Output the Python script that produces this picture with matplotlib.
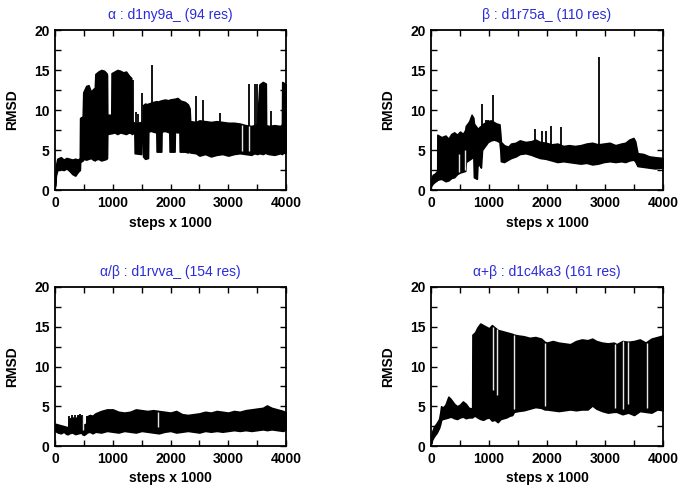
import numpy as np
import matplotlib
matplotlib.use("Agg")
import matplotlib.pyplot as plt
from matplotlib.ticker import MultipleLocator

plt.rcParams['font.family'] = ['Liberation Sans', 'DejaVu Sans']

# ---- panel 1 : alpha  d1ny9a_ ----
a_x  = [0, 15, 40, 100, 150, 200, 250, 300, 350, 400, 430, 435, 480, 490, 540, 580, 620, 660, 690,
        700, 750, 800, 850, 890, 900, 905, 975, 980, 1030, 1080, 1130, 1180, 1230, 1280, 1320, 1330,
        1375, 1380, 1490, 1495, 1520, 1525, 1560, 1610, 1615, 1660, 1700, 1755, 1760, 1840, 1845,
        1900, 1980, 1985, 2070, 2075, 2120, 2155, 2160, 2250, 2300, 2330, 2340, 2440, 2500, 2600,
        2700, 2800, 2900, 3000, 3100, 3200, 3300, 3400, 3450, 3500, 3540, 3600, 3650, 3655, 3700,
        3800, 3900, 3930, 3935, 4000]
a_lo = [0.5, 1.8, 2.5, 2.6, 2.5, 2.7, 2.4, 2.0, 1.8, 2.3, 2.5, 3.5, 3.7, 3.9, 3.8, 3.9, 4.0, 3.8, 3.7,
        3.8, 3.9, 3.7, 3.8, 3.9, 4.0, 7.0, 7.1, 7.1, 7.2, 7.0, 7.2, 7.1, 7.0, 7.2, 7.1, 7.0,
        7.2, 4.6, 4.5, 7.0, 7.1, 4.2, 3.9, 4.0, 7.3, 7.4, 7.3, 7.2, 4.8, 4.8, 7.3,
        7.4, 7.2, 4.8, 4.8, 7.3, 7.2, 7.3, 4.8, 4.8, 4.7, 4.8, 4.7, 4.6, 4.3, 4.5,
        4.2, 4.4, 4.5, 4.3, 4.5, 4.6, 4.5, 4.4, 4.6, 4.5, 4.6, 4.5, 4.7, 4.6, 4.5,
        4.4, 4.6, 4.5, 4.6, 4.7]
a_hi = [0.9, 3.0, 3.9, 4.1, 3.8, 4.0, 3.9, 3.8, 3.9, 3.8, 4.0, 9.0, 9.2, 12.2, 13.0, 13.1, 12.3, 12.6, 12.8,
        14.5, 14.8, 15.0, 14.9, 14.6, 14.4, 9.4, 9.4, 14.6, 14.8, 15.0, 14.9, 14.7, 14.8, 14.3, 14.0, 8.6,
        8.4, 8.3, 8.5, 8.2, 8.2, 10.6, 10.8, 10.7, 10.8, 10.9, 11.0, 11.1, 11.0, 11.2, 11.2,
        11.3, 11.2, 11.3, 11.4, 11.4, 11.5, 11.3, 11.2, 11.0, 10.7, 10.2, 8.6, 8.5, 8.7, 8.6,
        8.5, 8.6, 8.5, 8.4, 8.4, 8.3, 8.1, 8.0, 8.1, 8.2, 13.2, 13.5, 13.3, 8.1, 8.0,
        8.1, 8.0, 8.2, 13.5, 13.2]
a_spike_x = [1352, 1400, 1440, 1508, 1680, 2446, 2561, 2849, 3367, 3455, 3500, 3741]
a_spike_y = [13.7, 9.8, 9.5, 12.1, 15.6, 11.8, 11.2, 9.6, 13.3, 13.2, 13.3, 9.9]
a_gap_x  = [3240, 3355]
a_gap_lo = [4.9, 4.9]
a_gap_hi = [8.1, 8.0]

# ---- panel 2 : beta  d1r75a_ ----
b_x  = [0, 30, 60, 100, 108, 110, 180, 250, 300, 350, 400, 450, 500, 550, 590, 600, 660, 700,
        730, 740, 790, 800, 840, 860, 880, 930, 980, 1030, 1080, 1130, 1180, 1195, 1205, 1260,
        1330, 1380, 1460, 1530, 1630, 1730, 1800, 1880, 1980, 2080, 2180, 2280, 2380, 2480, 2580,
        2680, 2780, 2880, 2980, 3080, 3180, 3280, 3350, 3420, 3490, 3520, 3560, 3660, 3760, 3860, 4000]
b_lo = [0.5, 0.8, 1.0, 1.2, 1.4, 1.3, 1.4, 1.1, 1.2, 1.5, 1.6, 2.0, 2.2, 2.3, 2.4, 3.5, 3.8, 4.0,
        4.4, 1.6, 1.4, 3.0, 3.2, 2.8, 5.0, 5.5, 6.0, 6.2, 6.3, 6.2, 6.0, 5.0, 3.6, 3.5,
        3.8, 4.0, 4.2, 4.5, 4.6, 4.4, 4.2, 4.0, 3.9, 3.7, 3.5, 3.6, 3.5, 3.4, 3.3,
        3.4, 3.2, 3.3, 3.5, 3.6, 3.5, 3.6, 3.5, 3.7, 3.8, 3.6, 3.0, 2.9, 2.8, 2.7, 2.8]
b_hi = [1.2, 1.9, 2.0, 2.3, 2.5, 6.9, 6.6, 6.8, 6.4, 7.0, 7.2, 6.9, 7.3, 7.0, 7.5, 8.0, 8.6, 9.4,
        9.0, 8.3, 7.8, 7.6, 7.9, 8.0, 8.2, 8.4, 8.6, 8.7, 8.5, 8.3, 8.2, 7.0, 6.0, 5.6,
        5.4, 5.8, 5.9, 6.2, 6.0, 6.1, 6.3, 6.0, 5.9, 5.7, 5.8, 5.5, 5.6, 5.5, 5.6,
        5.8, 5.9, 5.7, 5.8, 5.9, 5.6, 5.8, 5.9, 6.3, 6.5, 6.1, 4.6, 4.5, 4.2, 4.1, 4.0]
b_spike_x = [880, 940, 985, 1062, 1800, 1917, 1975, 2061, 2233, 2905]
b_spike_y = [10.7, 8.7, 8.7, 11.9, 7.6, 7.4, 7.4, 8.0, 7.9, 16.6]
b_gap_x  = [490, 580]
b_gap_lo = [2.2, 2.5]
b_gap_hi = [4.5, 5.0]

# ---- panel 3 : alpha/beta  d1rvva_ ----
c_x  = [0, 50, 100, 150, 200, 230, 240, 300, 350, 400, 460, 470, 500, 540, 550, 600, 650, 700,
        800, 900, 1000, 1100, 1200, 1300, 1400, 1500, 1600, 1700, 1800, 1900, 2000, 2100, 2200,
        2300, 2400, 2500, 2600, 2700, 2800, 2900, 3000, 3100, 3200, 3300, 3400, 3500, 3600, 3670,
        3750, 3850, 3950, 4000]
c_lo = [1.9, 1.7, 1.6, 1.8, 1.5, 1.5, 1.6, 1.7, 1.5, 1.6, 1.7, 1.5, 1.4, 1.6, 1.7, 1.8, 1.6, 1.8,
        1.7, 1.9, 1.8, 1.7, 1.9, 1.8, 1.7, 1.9, 1.8, 1.7, 1.6, 1.8, 1.9, 1.7, 1.8,
        1.9, 1.8, 1.7, 1.9, 1.8, 1.9, 1.8, 1.9, 2.0, 1.9, 2.0, 1.9, 2.0, 2.1, 2.0,
        2.1, 2.0, 1.9, 2.1]
c_hi = [2.8, 2.7, 2.6, 2.5, 2.4, 2.3, 3.4, 3.6, 3.4, 3.8, 3.7, 2.6, 2.7, 2.8, 3.7, 3.9, 3.8, 4.1,
        4.4, 4.6, 4.6, 4.3, 4.2, 4.3, 4.6, 4.5, 4.4, 4.5, 4.4, 4.3, 4.2, 4.4, 4.0,
        3.9, 4.0, 4.1, 4.3, 4.2, 4.4, 4.3, 4.2, 4.4, 4.3, 4.5, 4.6, 4.7, 4.8, 5.1,
        4.8, 4.6, 4.4, 4.2]
c_spike_x = [245, 300, 350, 390, 440, 460, 560, 610]
c_spike_y = [3.8, 3.9, 3.9, 3.9, 4.0, 3.9, 3.8, 3.9]
c_gap_x  = [480, 1790]
c_gap_lo = [2.0, 2.4]
c_gap_hi = [3.8, 4.3]

# ---- panel 4 : alpha+beta  d1c4ka3 ----
d_x  = [0, 20, 50, 100, 140, 160, 175, 200, 250, 300, 340, 400, 450, 500, 550, 600, 650, 710,
        715, 760, 800, 850, 900, 950, 1000, 1050, 1100, 1150, 1200, 1250, 1300, 1350, 1400, 1430,
        1500, 1600, 1700, 1800, 1900, 1960, 2000, 2100, 2200, 2300, 2400, 2500, 2600, 2700, 2780,
        2850, 2950, 3050, 3150, 3200, 3300, 3400, 3500, 3600, 3700, 3800, 3900, 4000]
d_lo = [0.3, 0.8, 1.2, 1.7, 2.3, 2.8, 3.3, 3.4, 3.5, 3.6, 3.7, 3.5, 3.4, 3.6, 3.7, 3.5, 3.6, 3.6,
        3.7, 3.8, 3.6, 3.4, 3.3, 3.5, 3.6, 3.2, 3.3, 3.0, 3.4, 3.5, 3.6, 3.8, 3.9, 4.3,
        4.4, 4.5, 4.7, 4.9, 4.8, 4.6, 4.6, 4.5, 4.4, 4.5, 4.6, 4.5, 4.6, 4.6, 5.1,
        4.7, 4.4, 4.2, 4.3, 4.3, 4.0, 4.2, 3.9, 4.4, 4.3, 4.2, 4.6, 4.5]
d_hi = [1.0, 1.8, 2.4, 2.9, 3.4, 4.2, 5.0, 4.8, 5.2, 6.2, 5.9, 5.3, 5.0, 5.2, 5.6, 5.3, 4.8, 4.7,
        14.0, 14.3, 14.9, 15.4, 15.2, 15.0, 14.8, 15.2, 14.9, 14.6, 14.5, 14.4, 14.3, 14.2, 14.1, 14.0,
        13.9, 13.8, 13.6, 13.7, 13.5, 13.1, 13.0, 13.2, 13.0, 12.9, 12.8, 13.2, 13.4, 13.3, 13.5,
        13.2, 13.0, 12.9, 13.0, 12.8, 13.2, 13.1, 13.2, 13.4, 13.0, 13.5, 13.7, 13.9]
d_spike_x = []
d_spike_y = []
d_gap_x  = [1070, 1140, 1430, 1965, 3175, 3315, 3390, 3725]
d_gap_lo = [7.0, 6.4, 4.6, 5.0, 4.8, 4.6, 5.3, 4.8]
d_gap_hi = [15.0, 14.7, 14.0, 13.0, 12.8, 13.2, 13.1, 13.0]

titles = ["\u03b1 : d1ny9a_ (94 res)", "\u03b2 : d1r75a_ (110 res)",
          "\u03b1/\u03b2 : d1rvva_ (154 res)", "\u03b1+\u03b2 : d1c4ka3 (161 res)"]

panels = [
    (a_x, a_lo, a_hi, a_spike_x, a_spike_y, a_gap_x, a_gap_lo, a_gap_hi),
    (b_x, b_lo, b_hi, b_spike_x, b_spike_y, b_gap_x, b_gap_lo, b_gap_hi),
    (c_x, c_lo, c_hi, c_spike_x, c_spike_y, c_gap_x, c_gap_lo, c_gap_hi),
    (d_x, d_lo, d_hi, d_spike_x, d_spike_y, d_gap_x, d_gap_lo, d_gap_hi),
]

# axes boxes in pixels (left, top, right, bottom)
boxes = [(55, 30, 286, 190), (431, 30, 663, 190), (55, 287, 286, 446), (431, 287, 663, 446)]
W, H = 685, 494

fig = plt.figure(figsize=(6.85, 4.94), dpi=100)

for i in range(4):
    l, t, r, b = boxes[i]
    ax = fig.add_axes([l / W, 1 - b / H, (r - l) / W, (b - t) / H])
    x, lo, hi, sx, sy, gx, glo, ghi = panels[i]
    ax.fill_between(x, lo, hi, color='black', linewidth=1.2, edgecolor='black')
    if len(sx):
        base = np.interp(sx, x, lo)
        ax.vlines(sx, base, sy, color='black', linewidth=1.3)
    if len(gx):
        ax.vlines(gx, glo, ghi, color='#e6e6e6', linewidth=1.0)

    ax.set_xlim(0, 4000)
    ax.set_ylim(0, 20)
    ax.xaxis.set_major_locator(MultipleLocator(1000))
    ax.xaxis.set_minor_locator(MultipleLocator(500))
    ax.yaxis.set_major_locator(MultipleLocator(5))
    ax.yaxis.set_minor_locator(MultipleLocator(2.5))
    ax.tick_params(which='both', direction='in', top=True, right=True, width=1.0)
    ax.tick_params(which='major', length=4, labelsize=10, pad=4)
    ax.tick_params(which='minor', length=4)
    for lab in ax.get_xticklabels() + ax.get_yticklabels():
        lab.set_fontweight('bold')
    for sp in ax.spines.values():
        sp.set_linewidth(1.3)

    ax.set_xlabel("steps x 1000", fontsize=10, fontweight='bold')
    ax.set_ylabel("RMSD", fontsize=10, fontweight='bold')
    ax.xaxis.set_label_coords(0.5, -0.16)
    ax.yaxis.set_label_coords(-0.155, 0.5)
    ax.set_title(titles[i], color='#2b2bd9', fontsize=10, pad=8)

fig.savefig("out.png", dpi=100)
